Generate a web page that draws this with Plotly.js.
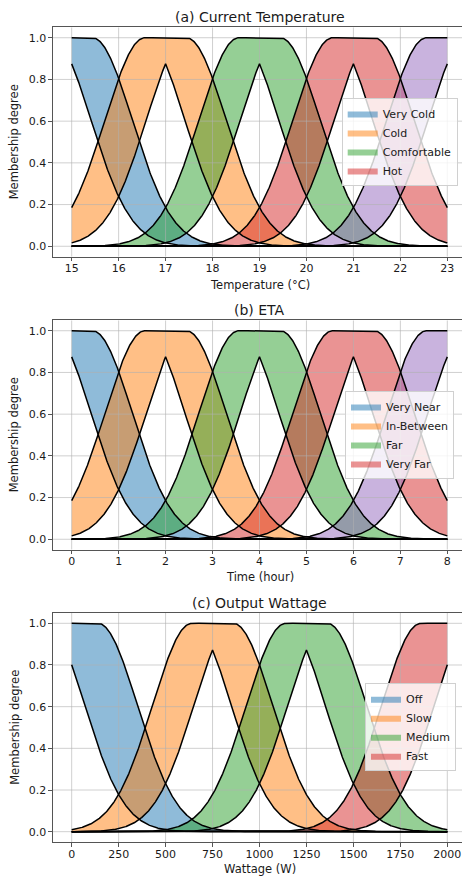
<!DOCTYPE html>
<html>
<head>
<meta charset="utf-8">
<script src="https://cdn.plot.ly/plotly-3.0.1.min.js"></script>
<style>
html,body{margin:0;padding:0;background:#ffffff;}
#chart{width:462px;height:876px;}
</style>
</head>
<body>
<div id="chart"></div>
<script>
// ---------- Data (interval type-2 Gaussian sets) ----------
// (a) Current Temperature
const tempTitle = '(a) Current Temperature';
const tempAxisLabel = 'Temperature (°C)';
const tempLabels = ['Very Cold', 'Cold', 'Comfortable', 'Hot', ''];
const tempCenters = [15, 17, 19, 21, 23];
const tempHalfWidths = [0.44, 0.44, 0.44, 0.44, 0.44];
const tempSigmas = [0.85, 0.85, 0.85, 0.85, 0.85];
const tempTicks = [15, 16, 17, 18, 19, 20, 21, 22, 23];

// (b) ETA
const etaTitle = '(b) ETA';
const etaAxisLabel = 'Time (hour)';
const etaLabels = ['Very Near', 'In-Between', 'Far', 'Very Far', ''];
const etaCenters = [0, 2, 4, 6, 8];
const etaHalfWidths = [0.44, 0.44, 0.44, 0.44, 0.44];
const etaSigmas = [0.85, 0.85, 0.85, 0.85, 0.85];
const etaTicks = [0, 1, 2, 3, 4, 5, 6, 7, 8];

// (c) Output Wattage
const wattTitle = '(c) Output Wattage';
const wattAxisLabel = 'Wattage (W)';
const wattLabels = ['Off', 'Slow', 'Medium', 'Fast'];
const wattCenters = [0, 750, 1250, 2000];
const wattHalfWidths = [140, 110, 110, 140];
const wattSigmas = [210, 210, 210, 210];
const wattTicks = [0, 250, 500, 750, 1000, 1250, 1500, 1750, 2000];

const membershipTicks = [0.0, 0.2, 0.4, 0.6, 0.8, 1.0];
const yAxisLabel = 'Membership degree';
const setColors = ['#1f77b4', '#ff7f0e', '#2ca02c', '#d62728', '#9467bd'];

// ---------- Membership functions ----------
function gauss(x, m, s) { const z = (x - m) / s; return Math.exp(-0.5 * z * z); }
function upperMF(x, c, d, s) {
  if (x < c - d) return gauss(x, c - d, s);
  if (x > c + d) return gauss(x, c + d, s);
  return 1;
}
function lowerMF(x, c, d, s) { return Math.min(gauss(x, c - d, s), gauss(x, c + d, s)); }
function rgba(hex, a) {
  const n = parseInt(hex.slice(1), 16);
  return 'rgba(' + ((n >> 16) & 255) + ',' + ((n >> 8) & 255) + ',' + (n & 255) + ',' + a + ')';
}

const panels = [
  {title: tempTitle, xlabel: tempAxisLabel, labels: tempLabels, centers: tempCenters, halfw: tempHalfWidths, sigmas: tempSigmas, ticks: tempTicks,
   domainY: [0.70696, 0.96884], titleY: 16.7, xlabelY: 285, legendY: 142, legendX: 341.7},
  {title: etaTitle, xlabel: etaAxisLabel, labels: etaLabels, centers: etaCenters, halfw: etaHalfWidths, sigmas: etaSigmas, ticks: etaTicks,
   domainY: [0.37249, 0.63436], titleY: 310, xlabelY: 577, legendY: 435, legendX: 345},
  {title: wattTitle, xlabel: wattAxisLabel, labels: wattLabels, centers: wattCenters, halfw: wattHalfWidths, sigmas: wattSigmas, ticks: wattTicks,
   domainY: [0.03870, 0.30034], titleY: 602.7, xlabelY: 869, legendY: 727.2, legendX: 365}
];

const W = 462, H = 876;
const plotLeft = 52.9;
const fontFam = 'DejaVu Sans, sans-serif';
const axisColor = '#555555';
const textColor = '#1a1a1a';
const gridColor = 'rgba(176,176,176,0.6)';

const traces = [];
const layout = {
  width: W, height: H,
  margin: {l: 0, r: 0, t: 0, b: 0},
  paper_bgcolor: '#ffffff', plot_bgcolor: '#ffffff',
  font: {family: fontFam, size: 11, color: textColor},
  showlegend: true,
  annotations: []
};

panels.forEach((p, i) => {
  const k = i === 0 ? '' : String(i + 1);
  const xa = 'x' + k, ya = 'y' + k;
  const legendId = 'legend' + k;
  const xmin = Math.min(...p.ticks), xmax = Math.max(...p.ticks);
  const span = xmax - xmin;
  const N = 801;
  const xs = [];
  for (let j = 0; j < N; j++) xs.push(xmin + span * j / (N - 1));

  // fills between lower and upper membership functions
  p.centers.forEach((c, m) => {
    const d = p.halfw[m], s = p.sigmas[m];
    const lo = xs.map(x => lowerMF(x, c, d, s));
    const up = xs.map(x => upperMF(x, c, d, s));
    traces.push({x: xs, y: lo, xaxis: xa, yaxis: ya, type: 'scatter', mode: 'lines',
      line: {width: 0, color: 'rgba(0,0,0,0)'}, showlegend: false, hoverinfo: 'skip'});
    traces.push({x: xs, y: up, xaxis: xa, yaxis: ya, type: 'scatter', mode: 'lines',
      fill: 'tonexty', fillcolor: rgba(setColors[m], 0.5),
      line: {width: 0, color: rgba(setColors[m], 0.5)},
      name: p.labels[m] || '', showlegend: !!p.labels[m], legend: legendId, hoverinfo: 'skip'});
  });

  // grid (above fills, below outlines, as in the reference)
  const gx = [], gy = [];
  p.ticks.forEach(t => { gx.push(t, t, null); gy.push(-0.05, 1.05, null); });
  traces.push({x: gx, y: gy, xaxis: xa, yaxis: ya, type: 'scatter', mode: 'lines',
    line: {width: 1, color: gridColor}, showlegend: false, hoverinfo: 'skip'});
  const hx = [], hy = [];
  membershipTicks.forEach(t => { hx.push(xmin - span, xmax + span, null); hy.push(t, t, null); });
  traces.push({x: hx, y: hy, xaxis: xa, yaxis: ya, type: 'scatter', mode: 'lines',
    line: {width: 1, color: gridColor}, showlegend: false, hoverinfo: 'skip'});

  // black outlines
  p.centers.forEach((c, m) => {
    const d = p.halfw[m], s = p.sigmas[m];
    const lo = xs.map(x => lowerMF(x, c, d, s));
    const up = xs.map(x => upperMF(x, c, d, s));
    traces.push({x: xs, y: lo, xaxis: xa, yaxis: ya, type: 'scatter', mode: 'lines',
      line: {width: 1.5, color: '#000000'}, showlegend: false, hoverinfo: 'skip'});
    traces.push({x: xs, y: up, xaxis: xa, yaxis: ya, type: 'scatter', mode: 'lines',
      line: {width: 1.5, color: '#000000'}, showlegend: false, hoverinfo: 'skip'});
  });

  const xr0 = xmin - 0.05 * span;
  const xr1 = xmax + 0.0391 * span;
  layout['xaxis' + k] = {
    domain: [plotLeft / W, 1], range: [xr0, xr1], anchor: ya,
    tickmode: 'array', tickvals: p.ticks, ticktext: p.ticks.map(String),
    ticks: 'outside', ticklen: 3.5, tickwidth: 1, tickcolor: axisColor,
    ticklabelstandoff: -2,
    showline: true, linecolor: axisColor, linewidth: 1, mirror: true,
    showgrid: false, zeroline: false, fixedrange: true,
    tickfont: {family: fontFam, size: 11, color: textColor}
  };
  layout['yaxis' + k] = {
    domain: p.domainY, range: [-0.05, 1.05], anchor: xa,
    tickmode: 'array', tickvals: membershipTicks, tickformat: '.1f',
    ticks: 'outside', ticklen: 3.5, tickwidth: 1, tickcolor: axisColor,
    showline: true, linecolor: axisColor, linewidth: 1, mirror: false,
    showgrid: false, zeroline: false, fixedrange: true,
    tickfont: {family: fontFam, size: 11, color: textColor}
  };
  layout[legendId] = {
    x: p.legendX / W, y: 1 - p.legendY / H, xanchor: 'left', yanchor: 'middle',
    xref: 'paper', yref: 'paper', traceorder: 'normal',
    bgcolor: 'rgba(255,255,255,0.8)', bordercolor: '#d0d0d0', borderwidth: 1,
    font: {family: fontFam, size: 11, color: textColor},
    tracegroupgap: 0, itemwidth: 30
  };

  const centerX = (plotLeft + (plotLeft + 413.2)) / 2 / W;
  layout.annotations.push({text: p.title, xref: 'paper', yref: 'paper', x: centerX, y: 1 - p.titleY / H,
    xanchor: 'center', yanchor: 'middle', showarrow: false, font: {family: fontFam, size: 14, color: textColor}});
  layout.annotations.push({text: p.xlabel, xref: 'paper', yref: 'paper', x: centerX, y: 1 - p.xlabelY / H,
    xanchor: 'center', yanchor: 'middle', showarrow: false, font: {family: fontFam, size: 11.5, color: textColor}});
  const midY = (p.domainY[0] + p.domainY[1]) / 2;
  layout.annotations.push({text: yAxisLabel, xref: 'paper', yref: 'paper', x: 14.3 / W, y: midY,
    xanchor: 'center', yanchor: 'middle', textangle: -90, showarrow: false, font: {family: fontFam, size: 11.5, color: textColor}});
});

Plotly.newPlot('chart', traces, layout, {staticPlot: true, displayModeBar: false});
</script>
</body>
</html>
